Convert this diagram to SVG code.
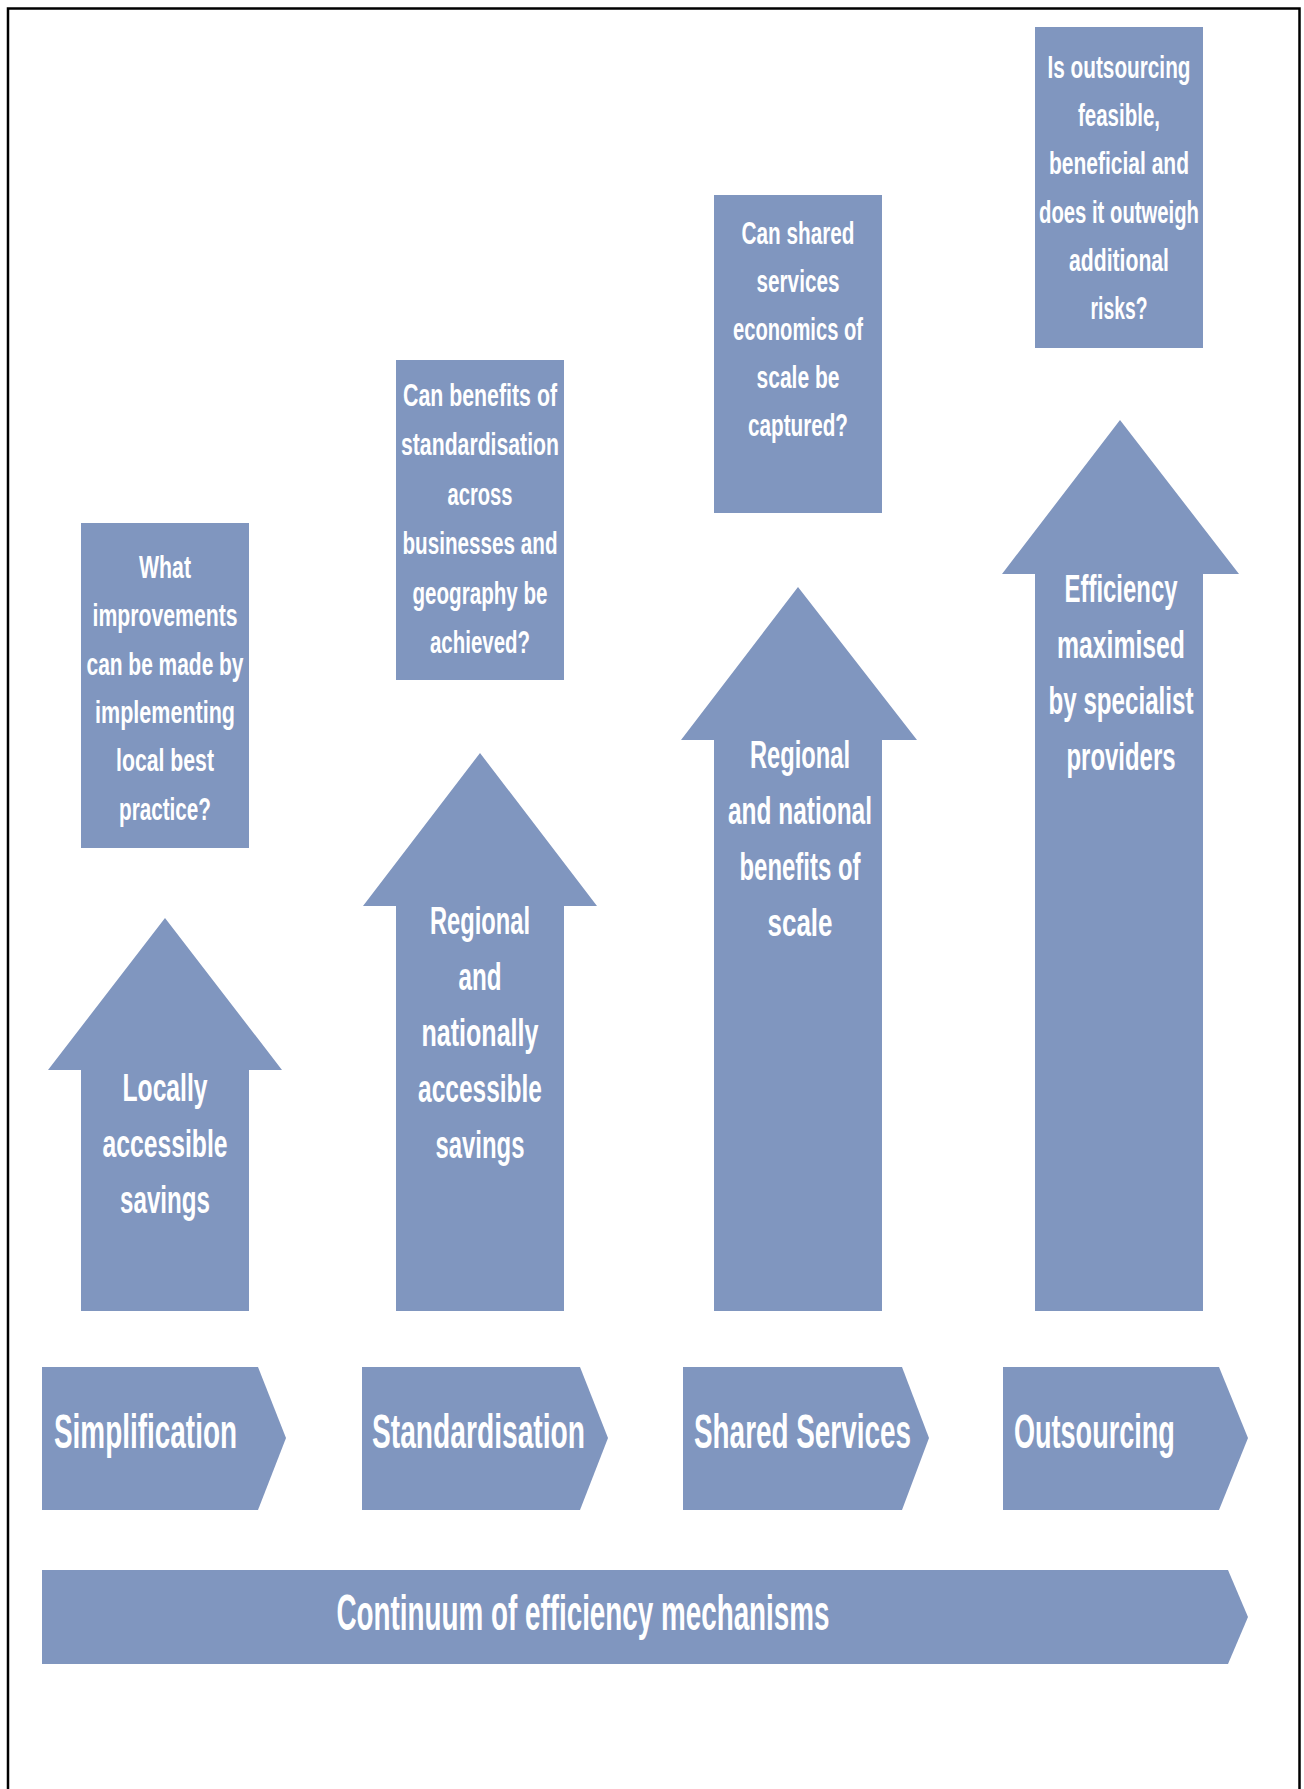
<svg xmlns="http://www.w3.org/2000/svg" width="1304" height="1789" viewBox="0 0 1304 1789">
<style>
.shape{fill:#8096BF;}
.t{fill:#ffffff;font-family:"Liberation Sans Narrow","Liberation Sans","DejaVu Sans Condensed",sans-serif;font-weight:bold;}
.q{font-size:32px;text-anchor:middle;}
.a{font-size:39px;text-anchor:middle;}
.c{font-size:48px;}
.m{font-size:50px;text-anchor:middle;}
</style>
<rect x="0" y="0" width="1304" height="1789" fill="#ffffff"/>
<path d="M8,1789 V8.5 H1299.5 V1789" fill="none" stroke="#000000" stroke-width="2.5"/>

<g id="q1">
<rect class="shape" x="81" y="523" width="168" height="325"/>
<text class="t q" x="165" y="578" textLength="52" lengthAdjust="spacingAndGlyphs">What</text>
<text class="t q" x="165" y="626" textLength="145" lengthAdjust="spacingAndGlyphs">improvements</text>
<text class="t q" x="165" y="675" textLength="157" lengthAdjust="spacingAndGlyphs">can be made by</text>
<text class="t q" x="165" y="723" textLength="140" lengthAdjust="spacingAndGlyphs">implementing</text>
<text class="t q" x="165" y="771" textLength="98" lengthAdjust="spacingAndGlyphs">local best</text>
<text class="t q" x="165" y="820" textLength="92" lengthAdjust="spacingAndGlyphs">practice?</text>
</g>

<g id="q2">
<rect class="shape" x="396" y="360" width="168" height="320"/>
<text class="t q" x="480" y="406" textLength="154" lengthAdjust="spacingAndGlyphs">Can benefits of</text>
<text class="t q" x="480" y="455" textLength="158" lengthAdjust="spacingAndGlyphs">standardisation</text>
<text class="t q" x="480" y="505" textLength="65" lengthAdjust="spacingAndGlyphs">across</text>
<text class="t q" x="480" y="554" textLength="155" lengthAdjust="spacingAndGlyphs">businesses and</text>
<text class="t q" x="480" y="604" textLength="135" lengthAdjust="spacingAndGlyphs">geography be</text>
<text class="t q" x="480" y="653" textLength="100" lengthAdjust="spacingAndGlyphs">achieved?</text>
</g>

<g id="q3">
<rect class="shape" x="714" y="195" width="168" height="318"/>
<text class="t q" x="798" y="244" textLength="113" lengthAdjust="spacingAndGlyphs">Can shared</text>
<text class="t q" x="798" y="292" textLength="83" lengthAdjust="spacingAndGlyphs">services</text>
<text class="t q" x="798" y="340" textLength="130" lengthAdjust="spacingAndGlyphs">economics of</text>
<text class="t q" x="798" y="388" textLength="83" lengthAdjust="spacingAndGlyphs">scale be</text>
<text class="t q" x="798" y="436" textLength="100" lengthAdjust="spacingAndGlyphs">captured?</text>
</g>

<g id="q4">
<rect class="shape" x="1035" y="27" width="168" height="321"/>
<text class="t q" x="1119" y="78" textLength="143" lengthAdjust="spacingAndGlyphs">Is outsourcing</text>
<text class="t q" x="1119" y="126" textLength="82" lengthAdjust="spacingAndGlyphs">feasible,</text>
<text class="t q" x="1119" y="174" textLength="140" lengthAdjust="spacingAndGlyphs">beneficial and</text>
<text class="t q" x="1119" y="223" textLength="160" lengthAdjust="spacingAndGlyphs">does it outweigh</text>
<text class="t q" x="1119" y="271" textLength="100" lengthAdjust="spacingAndGlyphs">additional</text>
<text class="t q" x="1119" y="319" textLength="57" lengthAdjust="spacingAndGlyphs">risks?</text>
</g>

<g id="arrow1">
<polygon class="shape" points="165,918 282,1070 249,1070 249,1311 81,1311 81,1070 48,1070"/>
<text class="t a" x="165" y="1101" textLength="85" lengthAdjust="spacingAndGlyphs">Locally</text>
<text class="t a" x="165" y="1157" textLength="125" lengthAdjust="spacingAndGlyphs">accessible</text>
<text class="t a" x="165" y="1213" textLength="90" lengthAdjust="spacingAndGlyphs">savings</text>
</g>

<g id="arrow2">
<polygon class="shape" points="480,753 597,906 564,906 564,1311 396,1311 396,906 363,906"/>
<text class="t a" x="480" y="934" textLength="100" lengthAdjust="spacingAndGlyphs">Regional</text>
<text class="t a" x="480" y="990" textLength="43" lengthAdjust="spacingAndGlyphs">and</text>
<text class="t a" x="480" y="1046" textLength="117" lengthAdjust="spacingAndGlyphs">nationally</text>
<text class="t a" x="480" y="1102" textLength="124" lengthAdjust="spacingAndGlyphs">accessible</text>
<text class="t a" x="480" y="1158" textLength="89" lengthAdjust="spacingAndGlyphs">savings</text>
</g>

<g id="arrow3">
<polygon class="shape" points="798,587 917,740 882,740 882,1311 714,1311 714,740 681,740"/>
<text class="t a" x="800" y="768" textLength="100" lengthAdjust="spacingAndGlyphs">Regional</text>
<text class="t a" x="800" y="824" textLength="144" lengthAdjust="spacingAndGlyphs">and national</text>
<text class="t a" x="800" y="880" textLength="121" lengthAdjust="spacingAndGlyphs">benefits of</text>
<text class="t a" x="800" y="936" textLength="65" lengthAdjust="spacingAndGlyphs">scale</text>
</g>

<g id="arrow4">
<polygon class="shape" points="1120,420 1239,574 1203,574 1203,1311 1035,1311 1035,574 1002,574"/>
<text class="t a" x="1121" y="602" textLength="113" lengthAdjust="spacingAndGlyphs">Efficiency</text>
<text class="t a" x="1121" y="658" textLength="128" lengthAdjust="spacingAndGlyphs">maximised</text>
<text class="t a" x="1121" y="714" textLength="145" lengthAdjust="spacingAndGlyphs">by specialist</text>
<text class="t a" x="1121" y="770" textLength="109" lengthAdjust="spacingAndGlyphs">providers</text>
</g>

<g id="simplification">
<polygon class="shape" points="42,1367 258,1367 286,1438 258,1510 42,1510"/>
<text class="t c" transform="translate(54,1448) scale(0.6,1)" x="0" y="0" textLength="305" lengthAdjust="spacingAndGlyphs">Simplification</text>
</g>
<g id="standardisation">
<polygon class="shape" points="362,1367 580,1367 608,1438 580,1510 362,1510"/>
<text class="t c" transform="translate(372,1448) scale(0.6,1)" x="0" y="0" textLength="355" lengthAdjust="spacingAndGlyphs">Standardisation</text>
</g>
<g id="shared-services">
<polygon class="shape" points="683,1367 902,1367 929,1438 902,1510 683,1510"/>
<text class="t c" transform="translate(694,1448) scale(0.55,1)" x="0" y="0" textLength="394.5" lengthAdjust="spacingAndGlyphs">Shared Services</text>
</g>
<g id="outsourcing">
<polygon class="shape" points="1003,1367 1219,1367 1248,1438 1219,1510 1003,1510"/>
<text class="t c" transform="translate(1014,1448) scale(0.6,1)" x="0" y="0" textLength="268" lengthAdjust="spacingAndGlyphs">Outsourcing</text>
</g>

<g id="continuum">
<polygon class="shape" points="42,1570 1228,1570 1248,1617 1228,1664 42,1664"/>
<text class="t m" x="583" y="1630" textLength="493" lengthAdjust="spacingAndGlyphs">Continuum of efficiency mechanisms</text>
</g>

<g id="connectors"></g>
</svg>
